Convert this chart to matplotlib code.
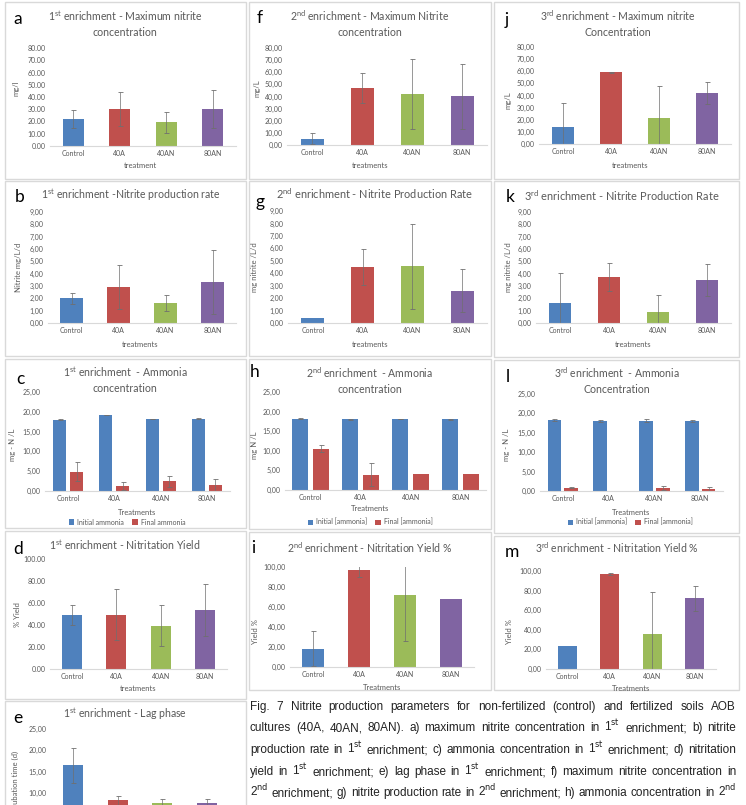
import matplotlib
matplotlib.use('Agg')
from matplotlib import pyplot as plt
from matplotlib.patches import Rectangle
import numpy as np

# ---- data ----
treatments = ['Control', '40A', '40AN', '80AN']

max_nitrite_1 = [22.0, 30.0, 19.5, 30.5]
max_nitrite_1_err = [7.5, 14.0, 8.5, 15.5]
rate_1 = [2.0, 2.9, 1.65, 3.35]
rate_1_err = [0.45, 1.8, 0.65, 2.6]
initial_nh3_1 = [18.0, 19.2, 18.2, 18.3]
initial_nh3_1_err = [0.15, 0.05, 0.05, 0.1]
final_nh3_1 = [4.9, 1.3, 2.5, 1.5]
final_nh3_1_err = [2.5, 1.0, 1.4, 1.5]
yield_1 = [49.0, 49.5, 39.5, 53.5]
yield_1_err = [9.0, 23.0, 18.5, 23.5]
lag_1 = [16.5, 8.3, 7.7, 7.7]
lag_1_err = [4.0, 1.0, 1.0, 1.0]

max_nitrite_2 = [5.0, 47.0, 42.0, 40.0]
max_nitrite_2_err = [4.5, 12.0, 29.0, 27.0]
rate_2 = [0.4, 4.5, 4.55, 2.6]
rate_2_err = [0.0, 1.45, 3.4, 1.75]
initial_nh3_2 = [18.2, 18.0, 18.1, 18.0]
initial_nh3_2_err = [0.15, 0.1, 0.1, 0.1]
final_nh3_2 = [10.5, 3.9, 4.2, 4.0]
final_nh3_2_err = [0.9, 2.9, 0.0, 0.0]
yield_2 = [18.5, 97.5, 72.0, 68.5]
yield_2_err = [17.5, 7.5, 46.0, 0.0]

max_nitrite_3 = [14.0, 59.0, 21.5, 42.0]
max_nitrite_3_err = [20.0, 0.5, 26.0, 9.0]
rate_3 = [1.65, 3.75, 0.9, 3.5]
rate_3_err = [2.4, 1.15, 1.35, 1.3]
initial_nh3_3 = [18.3, 18.0, 18.1, 18.0]
initial_nh3_3_err = [0.2, 0.2, 0.4, 0.3]
final_nh3_3 = [0.9, 0.0, 0.7, 0.5]
final_nh3_3_err = [0.2, 0.0, 0.5, 0.5]
yield_3 = [23.5, 97.0, 35.5, 72.0]
yield_3_err = [0.0, 1.0, 43.5, 13.0]

caption_lines = [
    'Fig. 7 Nitrite production parameters for non-fertilized (control) and fertilized soils AOB',
    'cultures (40A, 40AN, 80AN).  a) maximum nitrite concentration in 1$^{\\mathrm{st}}$ enrichment; b) nitrite',
    'production rate in 1$^{\\mathrm{st}}$ enrichment; c) ammonia concentration in 1$^{\\mathrm{st}}$ enrichment; d) nitritation',
    'yield in 1$^{\\mathrm{st}}$ enrichment; e) lag phase in 1$^{\\mathrm{st}}$ enrichment; f) maximum nitrite concentration in',
    '2$^{\\mathrm{nd}}$ enrichment; g) nitrite production rate in 2$^{\\mathrm{nd}}$ enrichment; h) ammonia concentration in 2$^{\\mathrm{nd}}$',
]

colors = ['#4F81BD', '#C0504D', '#9BBB59', '#8064A2']
GREY = '#595959'
W, H = 746, 805

plt.rcParams['font.family'] = ['Lato', 'DejaVu Sans']
plt.rcParams['mathtext.fontset'] = 'custom'
plt.rcParams['mathtext.rm'] = 'Lato'

fig = plt.figure(figsize=(W/100, H/100), dpi=100)
fig.patch.set_facecolor('white')

def fx(x):
    return x / W

def fy(y):
    return 1 - y / H

def border(x0, y0, x1, y1):
    fig.patches.append(Rectangle((fx(x0), fy(y1)), fx(x1) - fx(x0), fy(y0) - fy(y1),
                                 transform=fig.transFigure, fill=False,
                                 edgecolor='#d9d9d9', lw=1.0))

def make_axes(x0, x1, ytop, ybot, ymax, step, sep=','):
    ax = fig.add_axes([fx(x0), fy(ybot), fx(x1) - fx(x0), fy(ytop) - fy(ybot)])
    ax.set_ylim(0, ymax)
    ax.set_xlim(-0.5, 3.5)
    ticks = np.arange(0, ymax + step / 2, step)
    ax.set_yticks(ticks)
    ax.set_yticklabels([f'{t:.2f}'.replace('.', sep) for t in ticks])
    ax.set_xticks(range(len(treatments)))
    ax.set_xticklabels(treatments)
    ax.tick_params(length=0, labelsize=5, colors=GREY, pad=3)
    for s in ['top', 'right', 'left']:
        ax.spines[s].set_visible(False)
    ax.spines['bottom'].set_color('#d9d9d9')
    ax.patch.set_alpha(0)
    return ax

def errbars(ax, x, vals, errs):
    idx = [i for i, e in enumerate(errs) if e > 0]
    ax.errorbar(np.asarray(x)[idx], np.asarray(vals)[idx], yerr=np.asarray(errs)[idx],
                fmt='none', ecolor='#6f6f6f', elinewidth=0.5, capsize=1.8, capthick=0.6)

def single(ax, vals, errs, width):
    x = np.arange(len(vals))
    ax.bar(x, vals, width, color=colors)
    errbars(ax, x, vals, errs)

def paired(ax, init, init_err, final, final_err, width, off, labels, lx, ly):
    x = np.arange(len(init))
    ax.bar(x - off, init, width, color=colors[0], label=labels[0])
    ax.bar(x + off, final, width, color=colors[1], label=labels[1])
    errbars(ax, x - off, init, init_err)
    errbars(ax, x + off, final, final_err)
    ax.legend(loc='center', bbox_to_anchor=(fx(lx), fy(ly)), bbox_transform=fig.transFigure,
              ncol=2, frameon=False, fontsize=5, labelcolor=GREY, handlelength=0.8,
              handleheight=0.8, handletextpad=0.4, columnspacing=1.2)

def title(x, y, s, size=7.6):
    fig.text(fx(x), fy(y), s, ha='center', va='center', fontsize=size, color=GREY,
             linespacing=1.45)

def letter(x, y, s):
    fig.text(fx(x), fy(y), s, ha='center', va='center', fontsize=12.5, color='black')

def ylab(x, y, s):
    fig.text(fx(x), fy(y), s, ha='center', va='center', rotation=90, fontsize=5.5, color=GREY)

def xlab(x, y, s):
    fig.text(fx(x), fy(y), s, ha='center', va='center', fontsize=5.5, color=GREY)

# ---- panel borders ----
for (y0, y1) in [(2, 179), (181, 356), (359, 528), (531, 699), (701, 830)]:
    border(5, y0, 246, y1)
for (y0, y1) in [(2, 179), (181, 356), (359, 529), (532, 690)]:
    border(249, y0, 491, y1)
for (y0, y1) in [(2, 179), (181, 357), (360, 533), (536, 690)]:
    border(494, y0, 739, y1)

# ---- column 1 ----
ax = make_axes(50, 236, 48, 146, 80, 10, sep='.')
single(ax, max_nitrite_1, max_nitrite_1_err, 0.45)
letter(18, 19, 'a')
title(125, 23.5, '1$^{\\mathrm{st}}$ enrichment - Maximum nitrite\nconcentration')
ylab(16, 88, 'mg/l')
xlab(140, 166, 'treatment')

ax = make_axes(48, 236, 212, 323, 9, 1)
single(ax, rate_1, rate_1_err, 0.48)
letter(20, 197, 'b')
title(131, 195, '1$^{\\mathrm{st}}$ enrichment -Nitrite production rate')
ylab(18, 267, 'Nitrite mg/L/d')
xlab(140, 344, 'treatments')

ax = make_axes(45, 230, 392, 491, 25, 5)
paired(ax, initial_nh3_1, initial_nh3_1_err, final_nh3_1, final_nh3_1_err, 0.28, 0.185,
       ['Initial ammonia', 'Final ammonia'], 127, 522)
letter(20, 379, 'c')
title(125, 380, '1$^{\\mathrm{st}}$ enrichment  - Ammonia\nconcentration')
ylab(13, 445, 'mg - N /L')
xlab(137, 512, 'Treatments')

ax = make_axes(50, 227, 559, 669, 100, 20, sep='.')
single(ax, yield_1, yield_1_err, 0.45)
letter(18, 549, 'd')
title(125, 545, '1$^{\\mathrm{st}}$ enrichment - Nitritation Yield')
ylab(18, 615, '% Yield')
xlab(138, 688, 'treatments')

ax = make_axes(51, 229, 729, 836, 25, 5)
single(ax, lag_1, lag_1_err, 0.45)
ax.set_xticklabels([])
letter(18, 718, 'e')
title(125, 714, '1$^{\\mathrm{st}}$ enrichment - Lag phase')
ylab(15, 782, 'Incubation time (d)')

# ---- column 2 ----
ax = make_axes(287, 487, 48, 145, 80, 10)
single(ax, max_nitrite_2, max_nitrite_2_err, 0.46)
letter(260, 18, 'f')
title(370, 23.5, '2$^{\\mathrm{nd}}$ enrichment - Maximum Nitrite\nconcentration')
ylab(257, 88, 'mg/L')
xlab(370, 166, 'treatments')

ax = make_axes(288, 487, 211, 323, 9, 1)
single(ax, rate_2, rate_2_err, 0.46)
letter(260, 202, 'g')
title(374, 194, '2$^{\\mathrm{nd}}$ enrichment - Nitrite Production Rate', size=7.9)
ylab(255, 267, 'mg nitrite /L/d')
xlab(370, 344, 'treatments')

ax = make_axes(285, 486, 392, 490, 25, 5)
paired(ax, initial_nh3_2, initial_nh3_2_err, final_nh3_2, final_nh3_2_err, 0.32, 0.21,
       ['Initial [ammonia]', 'Final [ammonia]'], 370, 522)
letter(255, 372, 'h')
title(370, 380, '2$^{\\mathrm{nd}}$ enrichment  - Ammonia\nconcentration')
ylab(255, 445, 'mg N /L')
xlab(370, 508, 'Treatments')

ax = make_axes(290, 474, 567, 667, 100, 20)
single(ax, yield_2, yield_2_err, 0.46)
letter(253, 548, 'i')
title(370, 548, '2$^{\\mathrm{nd}}$ enrichment - Nitritation Yield %')
ylab(255, 632, 'Yield %')
xlab(382, 687, 'Treatments')

# ---- column 3 ----
ax = make_axes(539, 731, 47, 144, 80, 10)
single(ax, max_nitrite_3, max_nitrite_3_err, 0.45)
letter(507, 20, 'j')
title(618, 23.5, '3$^{\\mathrm{rd}}$ enrichment - Maximum nitrite\nConcentration')
ylab(508, 100, 'mg/L')
xlab(630, 165, 'treatments')

ax = make_axes(536, 731, 212, 323, 9, 1)
single(ax, rate_3, rate_3_err, 0.45)
letter(510, 197, 'k')
title(622, 196, '3$^{\\mathrm{rd}}$ enrichment - Nitrite Production Rate', size=7.9)
ylab(508, 267, 'mg nitrite /L/d')
xlab(633, 344, 'treatments')

ax = make_axes(540, 723, 394, 491, 25, 5)
paired(ax, initial_nh3_3, initial_nh3_3_err, final_nh3_3, final_nh3_3_err, 0.3, 0.185,
       ['Initial [ammonia]', 'Final [ammonia]'], 630, 522)
letter(508, 377, 'l')
title(617, 380, '3$^{\\mathrm{rd}}$ enrichment  - Ammonia\nConcentration')
ylab(507, 445, 'mg - N /L')
xlab(631, 512, 'Treatments')

ax = make_axes(546, 716, 571, 669, 100, 20)
single(ax, yield_3, yield_3_err, 0.45)
letter(512, 552, 'm')
title(617, 548, '3$^{\\mathrm{rd}}$ enrichment - Nitritation Yield %')
ylab(510, 632, 'Yield %')
xlab(631, 688, 'Treatments')

# ---- justified caption ----
renderer = fig.canvas.get_renderer()
cap_x0, cap_x1 = 250, 736
cap_font = dict(va='baseline', color='#222222', family=['Liberation Sans', 'DejaVu Sans'],
                math_fontfamily='dejavusans')

# pick the largest size at which every line still fits with normal spacing
probe_size = 10
best = 20
for line in caption_lines:
    t = fig.text(0, 0, line, fontsize=probe_size, **cap_font)
    w = t.get_window_extent(renderer).width
    t.remove()
    best = min(best, probe_size * (cap_x1 - cap_x0) / w)
cap_size = min(best * 0.99, 9.2)

for line, base in zip(caption_lines, [710, 731, 753, 775, 796]):
    words = line.split()
    texts = [fig.text(0, fy(base), w, fontsize=cap_size, **cap_font) for w in words]
    widths = [t.get_window_extent(renderer).width for t in texts]
    gap = (cap_x1 - cap_x0 - sum(widths)) / (len(words) - 1)
    x = cap_x0
    for t, w in zip(texts, widths):
        t.set_x(fx(x))
        x += w + gap

fig.savefig('out.png', dpi=100)
